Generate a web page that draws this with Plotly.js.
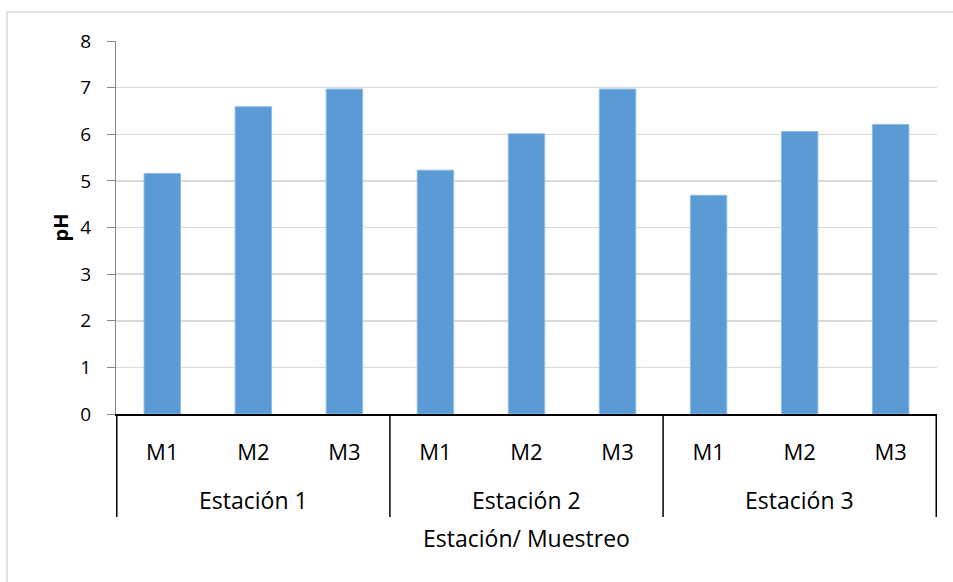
<!DOCTYPE html>
<html>
<head>
<meta charset="utf-8">
<script src="https://cdn.plot.ly/plotly-3.0.1.min.js"></script>
<style>html,body{margin:0;padding:0;background:#fff;}#chart{width:953px;height:582px;}</style>
</head>
<body>
<div id="chart"></div>
<script>
const stations = ["Estación 1","Estación 1","Estación 1","Estación 2","Estación 2","Estación 2","Estación 3","Estación 3","Estación 3"];
const samples = ["M1","M2","M3","M1","M2","M3","M1","M2","M3"];
const phValues = [5.16, 6.59, 6.97, 5.23, 6.01, 6.97, 4.69, 6.06, 6.21];
const yTicks = [0,1,2,3,4,5,6,7,8];
const xTitle = "Estación/ Muestreo";
const yTitle = "pH";

const fontFam = "'Open Sans', 'Liberation Sans', sans-serif";
const keys = stations.map((s, i) => s + " · " + samples[i]);

// group positions derived from the category arrays
const groups = [];
stations.forEach((s, i) => {
  const last = groups[groups.length - 1];
  if (last && last.name === s) { last.end = i; } else { groups.push({name: s, start: i, end: i}); }
});

const plotTop = 41, plotBottom = 414, plotH = plotBottom - plotTop;
const py = px => (plotBottom - px) / plotH;

const annotations = groups.map(g => ({
  xref: "x", yref: "paper", x: (g.start + g.end) / 2, y: py(500),
  text: g.name, showarrow: false, xanchor: "center", yanchor: "middle",
  font: {family: fontFam, size: 23, color: "#000"}
}));
annotations.push({
  xref: "paper", yref: "paper", x: 0.5, y: py(538), text: xTitle, showarrow: false,
  xanchor: "center", yanchor: "middle", font: {family: fontFam, size: 23, color: "#000"}
});

const bounds = [groups[0].start - 0.5].concat(groups.map(g => g.end + 0.5));
const shapes = bounds.map(b => ({
  type: "line", xref: "x", yref: "paper", x0: b, x1: b, y0: 0, y1: py(517),
  line: {color: "#000", width: 1.5}
}));
shapes.push({type: "rect", xref: "paper", yref: "paper",
  x0: (7 - 116) / 821, x1: 1.2, y0: -0.8, y1: py(12),
  line: {color: "#d9d9d9", width: 1.5}, fillcolor: "rgba(0,0,0,0)", layer: "below"});

const trace = {
  type: "bar",
  x: keys,
  y: phValues,
  marker: {color: "#5b9bd5", line: {color: "#8fbbe6", width: 1}},
  hoverinfo: "y"
};
const layout = {
  width: 953, height: 582,
  margin: {l: 116, r: 16, t: plotTop, b: 582 - plotBottom},
  paper_bgcolor: "#fff", plot_bgcolor: "#fff",
  showlegend: false,
  bargap: 0.6,
  font: {family: fontFam, size: 22, color: "#000"},
  xaxis: {
    type: "category",
    tickvals: keys, ticktext: samples,
    showline: true, linecolor: "#000", linewidth: 1.5,
    showgrid: false, zeroline: false,
    ticks: "", ticklabelstandoff: 18,
    tickfont: {family: fontFam, size: 22, color: "#000"}
  },
  yaxis: {
    range: [0, 8], tickvals: yTicks, ticktext: yTicks.map(String),
    showline: true, linecolor: "#868686", linewidth: 1,
    ticks: "outside", ticklen: 8, tickcolor: "#868686", ticklabelstandoff: 12,
    gridcolor: "#d9d9d9", gridwidth: 1.5, zeroline: false,
    tickfont: {family: fontFam, size: 19, color: "#000"},
    title: {text: "<b>" + yTitle + "</b>", font: {family: fontFam, size: 20, color: "#000"}, standoff: 6}
  },
  annotations: annotations,
  shapes: shapes
};
Plotly.newPlot("chart", [trace], layout, {displayModeBar: false, staticPlot: true});
</script>
</body>
</html>
